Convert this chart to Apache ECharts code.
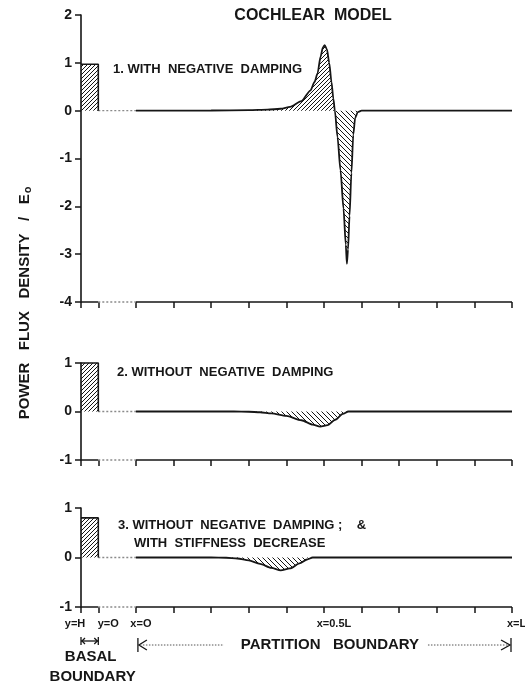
<!DOCTYPE html>
<html>
<head>
<meta charset="utf-8">
<script src="https://cdn.jsdelivr.net/npm/echarts@6/dist/echarts.min.js"></script>
<style>
  html, body { margin: 0; padding: 0; background: #fff; }
  #chart { width: 525px; height: 684px; }
</style>
</head>
<body>
<div id="chart"></div>
<script>
// Position along the model in units of the partition length L.
// The basal boundary (y = H .. y = 0) is drawn to the left of x = 0.
const basalStart = -0.146;   // y = H
const basalEnd = -0.1;       // y = 0
const partitionStart = 0;    // x = 0
const partitionEnd = 1.0;    // x = L

// Axis ticks along the bottom of every panel
const xTickValues = [-0.146, -0.1, 0, 0.1, 0.2, 0.3, 0.4, 0.5, 0.6, 0.7, 0.8, 0.9, 1.0];
const xTickLabels = ['y=H', 'y=O', 'x=O', 'x=0.5L', 'x=L'];
const xTickLabelValues = [-0.146, -0.1, 0, 0.5, 1.0];

// Vertical ranges of the three panels
const yMins = [-4, -1, -1];
const yMaxs = [2, 1, 1];

const panelNotes = [
  ['1. WITH  NEGATIVE  DAMPING'],
  ['2. WITHOUT  NEGATIVE  DAMPING'],
  ['3. WITHOUT  NEGATIVE  DAMPING ;    &', 'WITH  STIFFNESS  DECREASE']
];

// Power flux density / E0 at the basal boundary
const basalFlux = [0.97, 1.0, 0.8];

// Panel 1: with negative damping
const flux1X = [0, 0.1, 0.2, 0.3, 0.35, 0.385, 0.41, 0.44, 0.464, 0.475, 0.483, 0.491, 0.497, 0.502,
  0.508, 0.514, 0.52, 0.525, 0.529, 0.536, 0.544, 0.552, 0.558, 0.561, 0.564, 0.568, 0.573, 0.578,
  0.583, 0.59, 0.6, 0.8, 1.0];
const flux1Y = [0, 0, 0.003, 0.01, 0.02, 0.04, 0.08, 0.2, 0.42, 0.6, 0.78, 1.13, 1.32, 1.37,
  1.28, 1.0, 0.6, 0.25, 0, -0.55, -1.25, -2.05, -2.8, -3.2, -2.9, -2.2, -1.3, -0.5,
  -0.15, -0.03, 0, 0, 0];

// Panel 2: without negative damping
const flux2X = [0, 0.1, 0.2, 0.26, 0.3, 0.33, 0.36, 0.4, 0.44, 0.47, 0.49, 0.51, 0.53, 0.55, 0.565, 0.6, 0.8, 1.0];
const flux2Y = [0, 0, 0, 0, -0.005, -0.015, -0.04, -0.09, -0.18, -0.27, -0.31, -0.28, -0.17, -0.05, 0, 0, 0, 0];

// Panel 3: without negative damping, with stiffness decrease
const flux3X = [0, 0.1, 0.2, 0.24, 0.27, 0.3, 0.33, 0.36, 0.385, 0.41, 0.435, 0.455, 0.47, 0.5, 0.8, 1.0];
const flux3Y = [0, 0, 0, -0.005, -0.02, -0.06, -0.13, -0.21, -0.26, -0.22, -0.12, -0.04, 0, 0, 0, 0];

const fluxX = [flux1X, flux2X, flux3X];
const fluxY = [flux1Y, flux2Y, flux3Y];

const INK = '#161616';
const FONT = "'Liberation Sans', Arial, sans-serif";

// Diagonal hatching used for the shaded areas
function hatch(forward, step) {
  const c = document.createElement('canvas');
  c.width = step; c.height = step;
  const g = c.getContext('2d');
  g.strokeStyle = INK;
  g.lineWidth = 1;
  g.beginPath();
  if (forward) {
    g.moveTo(-1, step + 1); g.lineTo(step + 1, -1);
    g.moveTo(-1, 1); g.lineTo(1, -1);
    g.moveTo(step - 1, step + 1); g.lineTo(step + 1, step - 1);
  } else {
    g.moveTo(-1, -1); g.lineTo(step + 1, step + 1);
    g.moveTo(step - 1, -1); g.lineTo(step + 1, 1);
    g.moveTo(-1, step - 1); g.lineTo(1, step + 1);
  }
  g.stroke();
  return { image: c, repeat: 'repeat' };
}
const hatchUp = hatch(true, 4);
const hatchDown = hatch(false, 5);

const grids = [
  { left: 81, right: 13, top: 15, height: 287 },
  { left: 81, right: 13, top: 363, height: 97 },
  { left: 81, right: 13, top: 508, height: 99 }
];

const xAxes = [], yAxes = [], series = [];

for (let i = 0; i < 3; i++) {
  xAxes.push({
    type: 'value', gridIndex: i, min: basalStart, max: partitionEnd,
    axisLine: { show: false, onZero: false },
    splitLine: { show: false },
    axisTick: { show: true, customValues: xTickValues, length: 6, lineStyle: { color: INK, width: 1.5 } },
    axisLabel: { show: false }
  });
  yAxes.push({
    type: 'value', gridIndex: i, min: yMins[i], max: yMaxs[i], interval: 1,
    axisLine: { show: true, onZero: false, lineStyle: { color: INK, width: 1.6 } },
    axisTick: { show: true, length: 6, lineStyle: { color: INK, width: 1.5 } },
    splitLine: { show: false },
    axisLabel: { color: INK, fontFamily: FONT, fontWeight: 'bold', fontSize: 14, margin: 9 }
  });

  const base = { xAxisIndex: i, yAxisIndex: i, type: 'line', symbol: 'none', silent: true, clip: false, animation: false };
  const yMin = yMins[i];
  const xs = fluxX[i], ys = fluxY[i];

  // bottom boundary line: solid under the basal part and the partition, dotted in between
  series.push(Object.assign({}, base, {
    data: [[basalStart, yMin], [basalEnd, yMin], '-', [partitionStart, yMin], [partitionEnd, yMin]],
    lineStyle: { color: INK, width: 1.6 }
  }));
  series.push(Object.assign({}, base, {
    data: [[basalEnd, yMin], [partitionStart, yMin]],
    lineStyle: { color: '#8a8a8a', width: 1.4, type: [2, 2] }
  }));
  // dotted zero level joining the two boundaries
  series.push(Object.assign({}, base, {
    data: [[basalEnd, 0], [partitionStart, 0]],
    lineStyle: { color: '#8a8a8a', width: 1.4, type: [2, 2] }
  }));
  // basal boundary block
  series.push(Object.assign({}, base, {
    data: [[basalStart, basalFlux[i]], [basalEnd, basalFlux[i]], [basalEnd, 0]],
    lineStyle: { color: INK, width: 1.6 },
    areaStyle: { color: hatchUp, opacity: 1, origin: 0 }
  }));
  // shaded positive and negative lobes of the flux curve
  series.push(Object.assign({}, base, {
    data: xs.map((x, k) => [x, Math.max(ys[k], 0)]),
    smooth: 0.25, smoothMonotone: 'x',
    lineStyle: { width: 0, opacity: 0 },
    areaStyle: { color: hatchUp, opacity: 1, origin: 0 }
  }));
  series.push(Object.assign({}, base, {
    data: xs.map((x, k) => [x, Math.min(ys[k], 0)]),
    smooth: 0.25, smoothMonotone: 'x',
    lineStyle: { width: 0, opacity: 0 },
    areaStyle: { color: hatchDown, opacity: 1, origin: 0 }
  }));
  // the flux curve itself
  series.push(Object.assign({}, base, {
    data: xs.map((x, k) => [x, ys[k]]),
    smooth: 0.25, smoothMonotone: 'x',
    lineStyle: { color: INK, width: 1.8 }
  }));
}

const chart = echarts.init(document.getElementById('chart'), null, { renderer: 'canvas' });
chart.setOption({
  backgroundColor: '#fff',
  animation: false,
  grid: grids,
  xAxis: xAxes,
  yAxis: yAxes,
  series: series
});

// Text and boundary markers placed from the axis scales
function px(panel, x, y) {
  return chart.convertToPixel({ gridIndex: panel }, [x, y]);
}
const txt = (text, x, y, size, align) => ({
  type: 'text', x: x, y: y, silent: true,
  style: { text: text, fill: INK, font: 'bold ' + size + 'px ' + FONT, textAlign: align || 'left', textVerticalAlign: 'middle' }
});

const graphics = [];
graphics.push(txt('COCHLEAR  MODEL', 313, 16, 16, 'center'));

// y-axis title
graphics.push({
  type: 'text', x: 25, y: 303, rotation: Math.PI / 2, silent: true,
  style: {
    text: 'POWER   FLUX   DENSITY   /   E{s|o}',
    fill: INK, font: 'bold 15px ' + FONT,
    textAlign: 'center', textVerticalAlign: 'middle',
    rich: { s: { fontSize: 11, fontWeight: 'bold', fontFamily: FONT, fill: INK, verticalAlign: 'bottom', padding: [5, 0, 0, 1] } }
  }
});

// panel captions
graphics.push(txt(panelNotes[0][0], 113, 69, 13));
graphics.push(txt(panelNotes[1][0], 117, 372, 13));
graphics.push(txt(panelNotes[2][0], 118, 525, 13));
graphics.push(txt(panelNotes[2][1], 134, 543, 13));

// tick labels under the bottom panel
const labelShift = [-6, 10, 5, 10, -5];
const labelAlign = ['center', 'center', 'center', 'center', 'left'];
xTickLabelValues.forEach((v, k) => {
  const p = px(2, v, yMins[2]);
  graphics.push(txt(xTickLabels[k], p[0] + labelShift[k], p[1] + 17, 11, labelAlign[k]));
});

// basal boundary span marker
const bA = px(2, basalStart, yMins[2]);
const bB = px(2, basalEnd, yMins[2]);
const my = bA[1] + 34;
const lineStyle = { stroke: INK, lineWidth: 1.3, fill: null };
const poly = (pts, style) => ({ type: 'polyline', silent: true, shape: { points: pts }, style: style || lineStyle });
graphics.push(poly([[bA[0], my - 4], [bA[0], my + 4]]));
graphics.push(poly([[bB[0], my - 4], [bB[0], my + 4]]));
graphics.push(poly([[bA[0], my], [bB[0], my]]));
graphics.push(poly([[bA[0] + 4, my - 3], [bA[0] + 1, my], [bA[0] + 4, my + 3]]));
graphics.push(poly([[bB[0] - 4, my - 3], [bB[0] - 1, my], [bB[0] - 4, my + 3]]));
graphics.push(txt('BASAL', (bA[0] + bB[0]) / 2 + 1, my + 16, 15, 'center'));
graphics.push(txt('BOUNDARY', (bA[0] + bB[0]) / 2 + 3, my + 36, 15, 'center'));

// partition boundary span marker
const pA = px(2, partitionStart, yMins[2]);
const pB = px(2, partitionEnd, yMins[2]);
const py = pA[1] + 38;
const pMid = (pA[0] + pB[0]) / 2;
const dotted = { stroke: '#555', lineWidth: 1, lineDash: [1.5, 1.5], fill: null };
graphics.push(poly([[pA[0] + 2, py - 7], [pA[0] + 2, py + 7]]));
graphics.push(poly([[pA[0] + 11, py - 5], [pA[0] + 3, py], [pA[0] + 11, py + 5]]));
graphics.push(poly([[pA[0] + 4, py], [pMid - 100, py]], dotted));
graphics.push(poly([[pMid + 104, py], [pB[0] - 3, py]], dotted));
graphics.push(poly([[pB[0] - 11, py - 5], [pB[0] - 2, py], [pB[0] - 11, py + 5]]));
graphics.push(poly([[pB[0] - 1, py - 7], [pB[0] - 1, py + 7]]));
graphics.push(txt('PARTITION   BOUNDARY', pMid + 6, py, 15, 'center'));

chart.setOption({ graphic: { elements: graphics } });
</script>
</body>
</html>
